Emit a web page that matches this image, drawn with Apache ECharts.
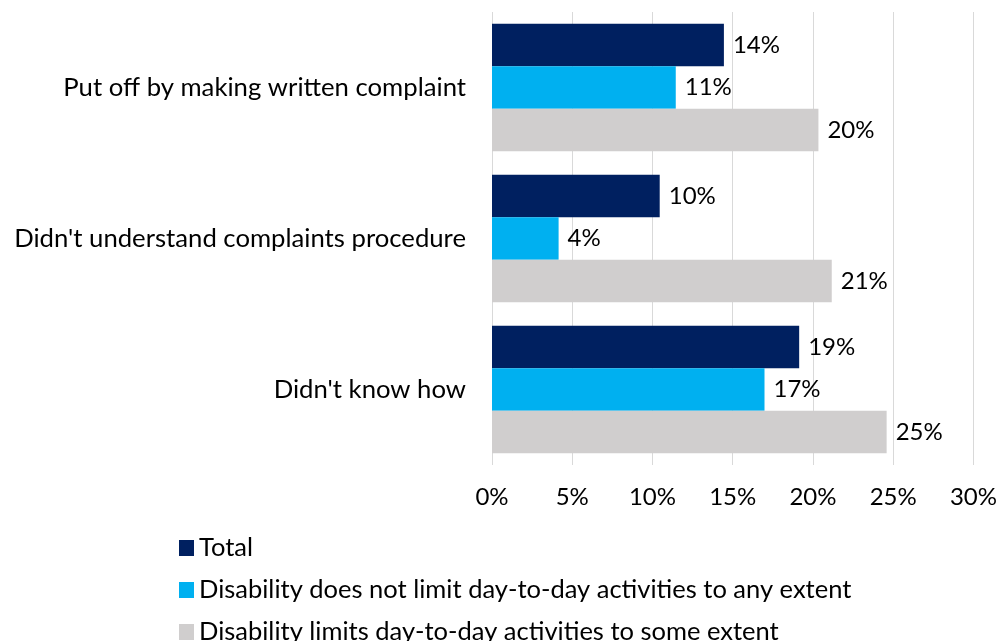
<!DOCTYPE html>
<html>
<head>
<meta charset="utf-8">
<script src="https://cdn.jsdelivr.net/npm/echarts@6/dist/echarts.min.js"></script>
<style>
  html, body { margin: 0; padding: 0; background: #fff; }
  #chart { width: 1000px; height: 641px; }
</style>
</head>
<body>
<div id="chart"></div>
<script>
// categories, top to bottom
const reasons = [
  'Put off by making written complaint',
  "Didn't understand complaints procedure",
  "Didn't know how",
];
const seriesNames = [
  'Total',
  'Disability does not limit day-to-day activities to any extent',
  'Disability limits day-to-day activities to some extent',
];
const totalVals = [14.45, 10.45, 19.14];
const notLimitVals = [11.45, 4.15, 16.98];
const limitsVals = [20.34, 21.17, 24.59];
const colors = ['#002060', '#00B0F0', '#D0CECE'];

const FONT = 'Lato';
const chart = echarts.init(document.getElementById('chart'));

const mkSeries = (name, data, color) => ({
  name,
  type: 'bar',
  data,
  barCategoryGap: '15.6%',
  barGap: '0%',
  itemStyle: { color },
  label: {
    show: true,
    position: 'right',
    distance: 9,
    color: '#000',
    fontFamily: FONT,
    fontSize: 24,
    formatter: (p) => Math.round(p.value) + '%',
  },
});

// one legend per row so the list never wraps into a second column
const legendTops = [530, 572, 614];
const legends = seriesNames.map((name, i) => ({
  orient: 'vertical',
  left: 174,
  top: legendTops[i],
  icon: 'rect',
  itemWidth: 15,
  itemHeight: 16,
  textStyle: { color: '#000', fontFamily: FONT, fontSize: 25.5, lineHeight: 26 },
  data: [name],
}));

chart.setOption({
  animation: false,
  grid: { left: 492, right: 25, top: 12, bottom: 176 },
  xAxis: {
    type: 'value',
    min: 0,
    max: 30,
    interval: 5,
    axisLine: { show: false },
    axisTick: { show: false },
    splitLine: { lineStyle: { color: '#D9D9D9', width: 1 } },
    axisLabel: {
      formatter: '{value}%',
      color: '#000',
      fontFamily: FONT,
      fontSize: 24,
      margin: 20,
    },
  },
  yAxis: {
    type: 'category',
    data: reasons,
    inverse: true,
    axisLine: { show: false },
    axisTick: { show: false },
    axisLabel: {
      color: '#000',
      fontFamily: FONT,
      fontSize: 25.7,
      margin: 26,
    },
  },
  legend: legends,
  series: [
    mkSeries(seriesNames[0], totalVals, colors[0]),
    mkSeries(seriesNames[1], notLimitVals, colors[1]),
    mkSeries(seriesNames[2], limitsVals, colors[2]),
  ],
});
</script>
</body>
</html>
